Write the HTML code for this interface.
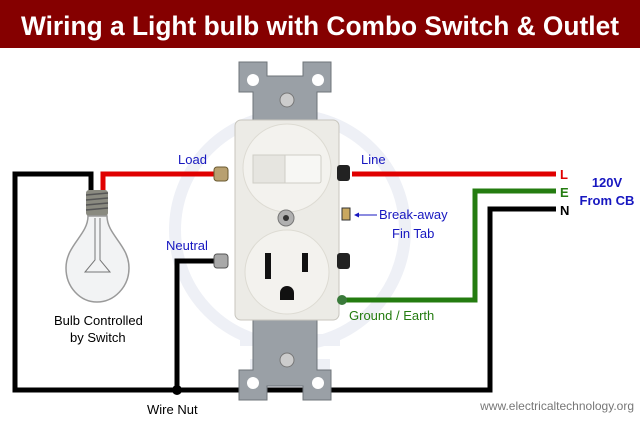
<!DOCTYPE html>
<html><head><style>
body{margin:0;width:640px;height:420px;overflow:hidden;background:#fff;font-family:"Liberation Sans",sans-serif}
</style></head><body>
<svg width="640" height="420" viewBox="0 0 640 420" xmlns="http://www.w3.org/2000/svg" font-family="Liberation Sans, sans-serif">
<rect x="0" y="0" width="640" height="48" fill="#850000"/>
<text x="320" y="35" text-anchor="middle" fill="#fff" font-size="27" font-weight="bold" font-family="Liberation Sans Narrow, Liberation Sans, sans-serif" textLength="598" lengthAdjust="spacingAndGlyphs">Wiring a Light bulb with Combo Switch &amp; Outlet</text>
<!-- watermark -->
<g fill="none" stroke="#eef0f6" stroke-width="12">
<circle cx="290" cy="230" r="115"/>
<path d="M240 340 h100 M250 365 h80 M260 385 h60"/>
</g>
<!-- wires -->
<g fill="none" stroke-width="5" stroke-linejoin="miter">
<polyline points="91,195 91,174 15,174 15,390 490,390 490,209 556,209" stroke="#000"/>
<polyline points="215,261 177,261 177,390" stroke="#000"/>
<polyline points="103,195 103,174 215,174" stroke="#e00000"/>
<polyline points="352,174 556,174" stroke="#e00000"/>
<polyline points="344,300 475,300 475,191 556,191" stroke="#247c10"/>
</g>
<circle cx="177" cy="390" r="5" fill="#000"/>
<!-- bulb -->
<g>
<rect x="86" y="190" width="22" height="26" rx="3" fill="#8a8a80"/>
<g stroke="#555" stroke-width="1.5"><line x1="86" y1="195" x2="108" y2="193"/><line x1="86" y1="200" x2="108" y2="198"/><line x1="86" y1="205" x2="108" y2="203"/><line x1="86" y1="210" x2="108" y2="208"/></g>
<path d="M88 216 C88 235 66 245 66 268 C66 287 80 302 97 302 C114 302 129 287 129 268 C129 245 107 235 107 216 Z" fill="#f2f3f4" stroke="#9a9a9a" stroke-width="1.5"/>
<path d="M95 218 L95 260 L85 272 L110 272 L100 260 L100 218" fill="none" stroke="#777" stroke-width="1"/>
</g>
<!-- device metal -->
<g fill="#9aa0a6" stroke="#6f757a" stroke-width="1">
<path d="M239 62 h28 v14 h36 v-14 h28 v30 h-14 v30 h-64 v-30 h-14 z"/>
<path d="M239 400 h28 v-14 h36 v14 h28 v-30 h-14 v-50 h-64 v50 h-14 z"/>
</g>
<g fill="#fff"><circle cx="253" cy="80" r="6"/><circle cx="318" cy="80" r="6"/><circle cx="253" cy="383" r="6"/><circle cx="318" cy="383" r="6"/></g>
<circle cx="287" cy="100" r="7" fill="#ccc" stroke="#777"/>
<circle cx="287" cy="360" r="7" fill="#ccc" stroke="#777"/>
<!-- body -->
<rect x="235" y="120" width="104" height="200" rx="6" fill="#ecebe6" stroke="#c8c6be"/>
<circle cx="287" cy="168" r="44" fill="#f3f2ee" stroke="#dddbd3"/>
<rect x="253" y="155" width="68" height="28" rx="2" fill="#f7f7f4" stroke="#cfcdc6"/>
<rect x="253" y="155" width="32" height="28" fill="#e6e5e0" stroke="#cfcdc6"/>
<circle cx="286" cy="218" r="8" fill="#b0b0b0" stroke="#777"/>
<circle cx="286" cy="218" r="3" fill="#333"/>
<circle cx="287" cy="272" r="42" fill="#f3f2ee" stroke="#dddbd3"/>
<rect x="265" y="253" width="6" height="26" fill="#111"/>
<rect x="302" y="253" width="6" height="19" fill="#111"/>
<path d="M280 300 v-7 a7 7 0 0 1 14 0 v7 z" fill="#111"/>
<!-- screws -->
<rect x="214" y="167" width="14" height="14" rx="3" fill="#b8a070" stroke="#6a5a30"/>
<rect x="214" y="254" width="14" height="14" rx="3" fill="#a8a8a8" stroke="#555"/>
<rect x="337" y="165" width="13" height="16" rx="3" fill="#222"/>
<rect x="337" y="253" width="13" height="16" rx="3" fill="#222"/>
<rect x="342" y="208" width="8" height="12" fill="#c9a860" stroke="#333"/>
<circle cx="342" cy="300" r="5" fill="#3a7a3a"/>
<!-- labels -->
<g font-size="13" fill="#1717c0">
<text x="178" y="164">Load</text>
<text x="361" y="164">Line</text>
<text x="166" y="250">Neutral</text>
<text x="379" y="219">Break-away</text>
<text x="392" y="238">Fin Tab</text>
</g>
<line x1="356" y1="215" x2="377" y2="215" stroke="#1717c0" stroke-width="1"/>
<path d="M354 215 l5 -2.5 v5 z" fill="#1717c0"/>
<text x="349" y="320" font-size="13" fill="#247c10">Ground / Earth</text>
<g font-size="13" fill="#000">
<text x="54" y="325">Bulb Controlled</text>
<text x="70" y="342">by Switch</text>
<text x="147" y="414">Wire Nut</text>
</g>
<g font-size="13" font-weight="bold">
<text x="560" y="179" fill="#e00000">L</text>
<text x="560" y="197" fill="#247c10">E</text>
<text x="560" y="215" fill="#000">N</text>
</g>
<g font-size="13" font-weight="bold" fill="#1717c0" text-anchor="middle">
<text x="607" y="187">120V</text>
<text x="607" y="205">From CB</text>
</g>
<text x="634" y="410" text-anchor="end" font-size="12" fill="#777">www.electricaltechnology.org</text>
</svg>
</body></html>
